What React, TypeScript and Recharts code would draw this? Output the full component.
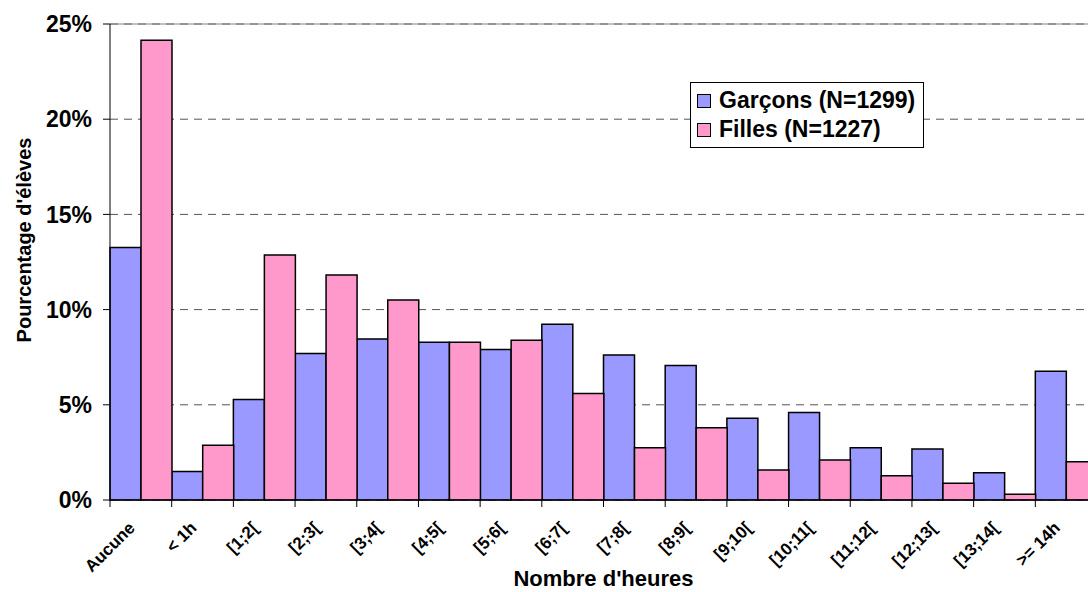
import React from 'react';
import {
  BarChart,
  Bar,
  XAxis,
  YAxis,
  CartesianGrid,
  Legend,
  ReferenceLine,
  Label
} from 'recharts';

const categories = [
  'Aucune', '< 1h', '[1;2[', '[2;3[', '[3;4[', '[4;5[', '[5;6[', '[6;7[',
  '[7;8[', '[8;9[', '[9;10[', '[10;11[', '[11;12[', '[12;13[', '[13;14[', '>= 14h'
];
const garcons = [13.26, 1.5, 5.28, 7.7, 8.46, 8.28, 7.91, 9.23, 7.62, 7.06, 4.29, 4.59, 2.75, 2.68, 1.43, 6.76];
const filles = [24.14, 2.88, 12.87, 11.82, 10.5, 8.28, 8.39, 5.6, 2.75, 3.8, 1.58, 2.1, 1.28, 0.88, 0.3, 2.01];
const yTicks = [0, 5, 10, 15, 20, 25];

const seriesNames = { garcons: 'Garçons (N=1299)', filles: 'Filles (N=1227)' };
const COLORS = { garcons: '#9999FF', filles: '#FF99CC' };

const data = categories.map((cat, i) => ({ cat, garcons: garcons[i], filles: filles[i] }));

const FONT = 'Arial, "Liberation Sans", sans-serif';
const CHART_W = 1100;
const CHART_H = 592;
const MARGIN = { top: 24, right: 3, left: 0, bottom: 0 };
const YAXIS_W = 110;
const BAND = (CHART_W - MARGIN.left - MARGIN.right - YAXIS_W) / categories.length;

// excel-style ticks: mark at category boundaries, label rotated under the middle
const CategoryTick = (props: any) => {
  const { x, y, payload, index } = props;
  const left = x - BAND / 2;
  return (
    <g>
      <line x1={left} y1={y} x2={left} y2={y + 7} stroke="#000" />
      {index === categories.length - 1 && (
        <line x1={x + BAND / 2} y1={y} x2={x + BAND / 2} y2={y + 7} stroke="#000" />
      )}
      <g transform={`translate(${x - 5},${y + 29})`}>
        <text
          x={0}
          y={0}
          textAnchor="end"
          transform="rotate(-45)"
          fontFamily={FONT}
          fontWeight="bold"
          fontSize={17}
          fill="#000"
        >
          {payload.value}
        </text>
      </g>
    </g>
  );
};

const LegendBox = () => (
  <div
    style={{
      border: '1px solid #000',
      background: '#fff',
      padding: '3px 8px 3px 6px',
      fontFamily: FONT,
      fontWeight: 'bold',
      fontSize: 23,
      color: '#000',
      lineHeight: '29px'
    }}
  >
    {(['garcons', 'filles'] as const).map((k) => (
      <div key={k} style={{ display: 'flex', alignItems: 'center', whiteSpace: 'nowrap' }}>
        <span
          style={{
            display: 'inline-block',
            width: 12,
            height: 12,
            background: COLORS[k],
            border: '1px solid #000',
            marginRight: 8
          }}
        />
        {seriesNames[k]}
      </div>
    ))}
  </div>
);

const YTitle = (props: any) => {
  const { viewBox } = props;
  const cx = 24;
  const cy = viewBox.y + viewBox.height / 2 - 22;
  return (
    <text
      x={cx}
      y={cy}
      transform={`rotate(-90, ${cx}, ${cy})`}
      textAnchor="middle"
      dominantBaseline="central"
      fontFamily={FONT}
      fontWeight="bold"
      fontSize={20}
      fill="#000"
    >
      Pourcentage d'élèves
    </text>
  );
};

export default function App() {
  return (
    <div
      style={{
        position: 'fixed',
        left: 0,
        top: 0,
        width: 1088,
        height: 592,
        overflow: 'hidden',
        background: '#fff'
      }}
    >
      <BarChart
        width={CHART_W}
        height={CHART_H}
        data={data}
        margin={MARGIN}
        barGap={0}
        barCategoryGap={0}
      >
        <CartesianGrid vertical={false} strokeDasharray="8 6" stroke="#555" />
        <ReferenceLine y={25} stroke="#808080" />
        <XAxis
          dataKey="cat"
          height={92}
          interval={0}
          tickLine={false}
          tickSize={0}
          tickMargin={0}
          axisLine={{ stroke: '#000' }}
          tick={<CategoryTick />}
        >
          <Label
            value="Nombre d'heures"
            position="insideBottom"
            offset={6}
            style={{ fontFamily: FONT, fontWeight: 'bold', fontSize: 22, fill: '#000' }}
          />
        </XAxis>
        <YAxis
          width={YAXIS_W}
          domain={[0, 25]}
          ticks={yTicks}
          tickFormatter={(v: number) => `${v}%`}
          axisLine={{ stroke: '#000' }}
          tickLine={{ stroke: '#000' }}
          tickSize={7}
          tickMargin={11}
          tick={{ fontFamily: FONT, fontWeight: 'bold', fontSize: 23, fill: '#000' }}
        >
          <Label content={<YTitle />} />
        </YAxis>
        <Legend
          layout="vertical"
          align="center"
          verticalAlign="middle"
          wrapperStyle={{ left: 690, top: 82, width: 'auto' }}
          content={<LegendBox />}
        />
        <Bar
          dataKey="garcons"
          name={seriesNames.garcons}
          fill={COLORS.garcons}
          stroke="#000"
          strokeWidth={1.5}
          isAnimationActive={false}
        />
        <Bar
          dataKey="filles"
          name={seriesNames.filles}
          fill={COLORS.filles}
          stroke="#000"
          strokeWidth={1.5}
          isAnimationActive={false}
        />
      </BarChart>
    </div>
  );
}
